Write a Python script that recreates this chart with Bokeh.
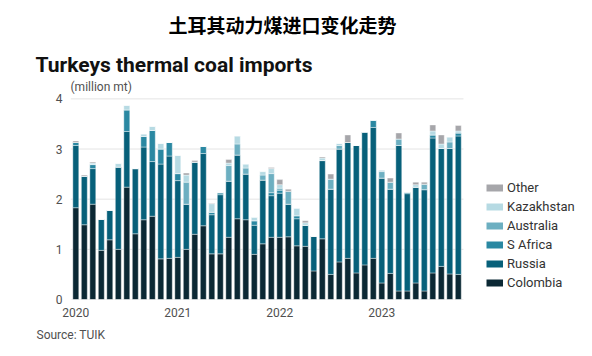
from bokeh.plotting import figure
from bokeh.models import Range1d, FixedTicker, Title, Legend, LegendItem, ColumnDataSource
from bokeh.embed import file_html
from bokeh.resources import INLINE

months = [f"{y}-{m:02d}" for y in (2020, 2021, 2022, 2023) for m in range(1, 13)][:46]
year_ticks = ["2020", "2021", "2022", "2023"]
y_ticks = [0, 1, 2, 3, 4]

colombia = [1.83, 1.49, 1.90, 0.98, 1.19, 1.00, 2.24, 1.31, 1.59, 1.66, 0.81, 0.82,
            0.84, 1.00, 1.30, 1.47, 0.91, 0.91, 1.24, 1.61, 1.59, 0.90, 1.11, 1.24,
            1.24, 1.25, 1.07, 1.06, 0.57, 1.21, 0.50, 0.75, 0.82, 0.53, 0.69, 0.82,
            0.33, 0.52, 0.17, 0.17, 0.33, 0.17, 0.53, 0.66, 0.51, 0.50]
russia = [1.24, 0.97, 0.71, 0.62, 0.59, 1.64, 1.11, 1.30, 1.45, 1.09, 1.89, 2.04,
          1.53, 0.90, 1.44, 1.44, 0.78, 1.18, 1.12, 1.27, 0.91, 0.58, 1.27, 0.83,
          0.88, 0.65, 0.54, 0.42, 0.69, 1.56, 1.70, 2.25, 2.31, 2.54, 2.65, 2.61,
          2.09, 1.68, 2.90, 1.94, 1.91, 2.02, 2.69, 2.35, 2.50, 2.76]
s_africa = [0.06, 0.00, 0.08, 0.00, 0.00, 0.00, 0.43, 0.00, 0.21, 0.62, 0.30, 0.27,
            0.14, 0.00, 0.00, 0.14, 0.05, 0.04, 0.00, 0.00, 0.00, 0.09, 0.00, 0.06,
            0.06, 0.00, 0.06, 0.00, 0.00, 0.00, 0.00, 0.00, 0.00, 0.00, 0.00, 0.14,
            0.00, 0.00, 0.00, 0.03, 0.00, 0.00, 0.06, 0.00, 0.00, 0.06]
australia = [0.00, 0.00, 0.00, 0.00, 0.00, 0.00, 0.00, 0.00, 0.00, 0.00, 0.00, 0.00,
             0.00, 0.44, 0.00, 0.00, 0.00, 0.00, 0.31, 0.22, 0.12, 0.00, 0.10, 0.38,
             0.04, 0.26, 0.00, 0.00, 0.00, 0.00, 0.20, 0.07, 0.00, 0.00, 0.00, 0.00,
             0.13, 0.14, 0.13, 0.00, 0.00, 0.11, 0.00, 0.00, 0.13, 0.00]
kazakhstan = [0.00, 0.00, 0.03, 0.00, 0.00, 0.07, 0.09, 0.00, 0.05, 0.08, 0.11, 0.00,
              0.36, 0.14, 0.00, 0.00, 0.17, 0.00, 0.05, 0.16, 0.08, 0.07, 0.07, 0.10,
              0.07, 0.00, 0.15, 0.05, 0.00, 0.05, 0.00, 0.04, 0.00, 0.00, 0.00, 0.01,
              0.03, 0.00, 0.00, 0.00, 0.05, 0.00, 0.08, 0.09, 0.10, 0.04]
other = [0.03, 0.02, 0.02, 0.00, 0.00, 0.00, 0.00, 0.00, 0.00, 0.00, 0.00, 0.00,
         0.00, 0.04, 0.03, 0.00, 0.01, 0.00, 0.07, 0.00, 0.00, 0.00, 0.00, 0.02,
         0.10, 0.04, 0.00, 0.04, 0.00, 0.02, 0.10, 0.00, 0.15, 0.00, 0.00, 0.00,
         0.00, 0.08, 0.12, 0.00, 0.05, 0.04, 0.12, 0.18, 0.00, 0.11]

series = ["Colombia", "Russia", "S Africa", "Australia", "Kazakhstan", "Other"]
colors = ["#0b2834", "#07607a", "#2a88a2", "#6cafc1", "#b6dae3", "#a6a6aa"]

src = ColumnDataSource(dict(
    x=list(range(len(months))), month=months,
    Colombia=colombia, Russia=russia, **{"S Africa": s_africa},
    Australia=australia, Kazakhstan=kazakhstan, Other=other))

X0, X1 = -0.624, 45.61   # extent of the bar area (grid lines)
p = figure(width=592, height=356, output_backend="svg", toolbar_location=None,
           x_range=Range1d(X0, 60.79), y_range=Range1d(0, 4.107),
           min_border_left=70, min_border_right=0, min_border_top=92,
           min_border_bottom=57, outline_line_color=None)

# grid lines only over the bar area
p.segment(x0=X0, x1=X1, y0=y_ticks, y1=y_ticks, line_color="#e4e4e4", line_width=1)

p.vbar_stack(series, x="x", width=0.7, source=src, color=colors,
             line_color="white", line_width=0.4)

# axes
p.xaxis.ticker = FixedTicker(ticks=[0, 12, 24, 36])
p.xaxis.major_label_overrides = {0: year_ticks[0], 12: year_ticks[1],
                                 24: year_ticks[2], 36: year_ticks[3]}
p.yaxis.ticker = FixedTicker(ticks=y_ticks)
for ax in (p.xaxis, p.yaxis):
    ax.axis_line_color = None
    ax.major_tick_line_color = None
    ax.minor_tick_line_color = None
    ax.major_tick_out = 0
    ax.major_label_text_font = "Roboto"
    ax.major_label_text_font_size = "12px"
    ax.major_label_text_color = "#505050"
p.xaxis.major_label_standoff = 8
p.yaxis.major_label_standoff = 8
p.xgrid.grid_line_color = None
p.ygrid.grid_line_color = None

# legend (inside the frame, right of the bars); swatches from invisible one-point lines
nan = float("nan")
items = []
for name, col in reversed(list(zip(series, colors))):
    r = p.line(x=[nan], y=[nan], line_color=col, line_width=7, line_cap="butt")
    items.append(LegendItem(label=name, renderers=[r]))
legend = Legend(items=items, location=(416, 7), padding=0, margin=0, spacing=0,
                glyph_width=17, glyph_height=19, label_height=19, label_standoff=4,
                border_line_color=None, background_fill_alpha=0,
                label_text_font="Roboto", label_text_font_size="13px",
                label_text_color="#333333")
p.add_layout(legend, "center")

# titles (added from the frame outward)
p.add_layout(Title(text="(million mt)", align="left", offset=0, standoff=0,
                   text_font="Roboto", text_font_style="normal",
                   text_font_size="12px", text_color="#505050"), "above")
p.add_layout(Title(text="Turkeys thermal coal imports", align="left", offset=-35,
                   standoff=2, text_font="Roboto", text_font_style="bold",
                   text_font_size="21px", text_color="#111111"), "above")
p.add_layout(Title(text="土耳其动力煤进口变化走势", align="left", offset=98,
                   standoff=20, vertical_align="top",
                   text_font="Noto Sans CJK SC", text_font_style="bold",
                   text_font_size="19px", text_color="#000000"), "above")
p.add_layout(Title(text="Source: TUIK", align="left", offset=-34, standoff=12,
                   text_font="Roboto", text_font_style="normal",
                   text_font_size="12px", text_color="#505050"), "below")

open("out.html", "w").write(file_html(p, INLINE))
